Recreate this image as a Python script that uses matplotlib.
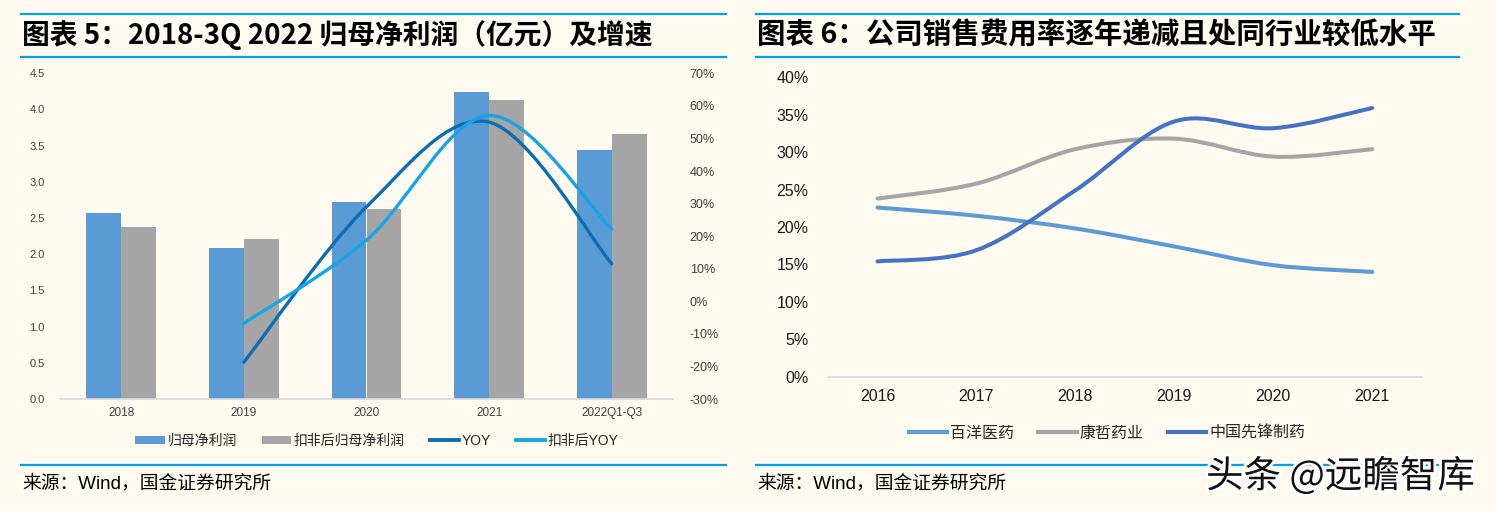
import numpy as np
import matplotlib
matplotlib.use("Agg")
import matplotlib.pyplot as plt
from matplotlib.path import Path
from matplotlib.patches import PathPatch
from matplotlib.lines import Line2D
import matplotlib.patheffects as pe

plt.rcParams['font.family'] = ['Liberation Sans', 'Noto Sans CJK SC']

# left chart data
periods = ["2018", "2019", "2020", "2021", "2022Q1-Q3"]
np_parent = [2.57, 2.09, 2.72, 4.24, 3.44]
np_deducted = [2.37, 2.21, 2.62, 4.13, 3.66]
yoy_years = [1, 2, 3, 4]
yoy = [-18.7, 29.0, 55.0, 11.5]
yoy_deducted = [-6.8, 18.8, 57.0, 22.2]

# right chart data
years = ["2016", "2017", "2018", "2019", "2020", "2021"]
baiyang = [22.6, 21.5, 19.8, 17.4, 14.9, 14.0]
kangzhe = [23.8, 25.8, 30.4, 31.8, 29.4, 30.4]
xianfeng = [15.4, 16.9, 24.9, 34.1, 33.2, 35.9]

BG = "#FEFAF0"
RULE = "#00A0E9"
W, H = 1496, 511


def smooth_path(xs, ys):
    # Excel-like smoothed line: cubic bezier through every point
    pts = np.column_stack([xs, ys]).astype(float)
    verts = [pts[0]]
    codes = [Path.MOVETO]
    n = len(pts)
    for i in range(n - 1):
        p0 = pts[i - 1] if i > 0 else pts[i]
        p1, p2 = pts[i], pts[i + 1]
        p3 = pts[i + 2] if i + 2 < n else pts[i + 1]
        verts += [p1 + (p2 - p0) / 6, p2 - (p3 - p1) / 6, p2]
        codes += [Path.CURVE4] * 3
    return Path(verts, codes)


def add_smooth(ax, xs, ys, color, lw):
    patch = PathPatch(smooth_path(xs, ys), facecolor="none", edgecolor=color,
                      lw=lw, capstyle="round", joinstyle="round")
    ax.add_patch(patch)


def fx(px):
    return px / W


def fy(py):
    return 1 - py / H


fig = plt.figure(figsize=(W / 100, H / 100), dpi=100, facecolor=BG)

# frame rules, titles and sources
for x0, x1 in [(21, 726), (756, 1459)]:
    for yy in [14, 57.5, 464.5]:
        fig.add_artist(Line2D([fx(x0), fx(x1)], [fy(yy), fy(yy)],
                              transform=fig.transFigure, color=RULE, lw=1.6))

fig.text(fx(22), fy(35), "图表 5：2018-3Q 2022 归母净利润（亿元）及增速",
         family=['Noto Sans CJK SC'], fontweight="bold", fontsize=20,
         va="center", ha="left")
fig.text(fx(757), fy(35), "图表 6：公司销售费用率逐年递减且处同行业较低水平",
         family=['Noto Sans CJK SC'], fontweight="bold", fontsize=20.5,
         va="center", ha="left")
fig.text(fx(22), fy(483), "来源：Wind，国金证券研究所", fontsize=13.5,
         va="center", ha="left")
fig.text(fx(757), fy(483), "来源：Wind，国金证券研究所", fontsize=13.5,
         va="center", ha="left")

# ---- left chart ----
ax1 = fig.add_axes([fx(60), fy(399), fx(673) - fx(60), fy(73.3) - fy(399)])
ax1.set_facecolor("none")
x = np.arange(len(periods))
bw = 0.285
ax1.bar(x - bw / 2, np_parent, bw, color="#5B9BD5", label="归母净利润")
ax1.bar(x + bw / 2, np_deducted, bw, color="#A5A5A5", label="扣非后归母净利润")
ax1.set_xlim(-0.5, len(periods) - 0.5)
ax1.set_ylim(0, 4.5)
ax1.set_yticks(np.arange(0, 4.51, 0.5))
ax1.set_yticklabels(["{:.1f}".format(v) for v in np.arange(0, 4.51, 0.5)])
ax1.set_xticks(x)
ax1.set_xticklabels(periods)
for s in ["top", "left", "right"]:
    ax1.spines[s].set_visible(False)
ax1.spines["bottom"].set_color("#D9D9D9")
ax1.spines["bottom"].set_linewidth(1.2)
ax1.tick_params(length=0, labelsize=8, colors="#404040")
ax1.tick_params(axis="x", labelsize=8.5, pad=6)
ax1.tick_params(axis="y", pad=11)

ax2 = ax1.twinx()
ax2.set_ylim(-30, 70)
ax2.set_yticks(np.arange(-30, 71, 10))
ax2.set_yticklabels(["{}%".format(v) for v in range(-30, 71, 10)])
for s in ax2.spines.values():
    s.set_visible(False)
ax2.tick_params(length=0, labelsize=9, colors="#404040", pad=12)
add_smooth(ax2, yoy_years, yoy, "#0B6DB5", 2.4)
add_smooth(ax2, yoy_years, yoy_deducted, "#17A4E6", 2.4)

h1, l1 = ax1.get_legend_handles_labels()
h1 += [Line2D([], [], color="#0B6DB5", lw=2.8),
       Line2D([], [], color="#17A4E6", lw=2.8)]
l1 += ["YOY", "扣非后YOY"]
fig.legend(h1, l1, loc="center", bbox_to_anchor=(fx(377), fy(441)), ncol=4,
           frameon=False, fontsize=10, handlelength=2.1, handleheight=0.55,
           handletextpad=0.2, columnspacing=1.8, labelcolor="#262626")

# ---- right chart ----
ax3 = fig.add_axes([fx(828), fy(376.7), fx(1421.7) - fx(828), fy(77.3) - fy(376.7)])
ax3.set_facecolor("none")
xr = np.arange(len(years))
add_smooth(ax3, xr, baiyang, "#5B9BD5", 2.9)
add_smooth(ax3, xr, kangzhe, "#A5A5A5", 2.9)
add_smooth(ax3, xr, xianfeng, "#4472C4", 2.9)
ax3.set_xlim(-0.5, len(years) - 0.5)
ax3.set_ylim(0, 40)
ax3.set_yticks(range(0, 41, 5))
ax3.set_yticklabels(["{}%".format(v) for v in range(0, 41, 5)])
ax3.set_xticks(xr)
ax3.set_xticklabels(years)
for s in ["top", "left", "right"]:
    ax3.spines[s].set_visible(False)
ax3.spines["bottom"].set_color("#D9D9D9")
ax3.spines["bottom"].set_linewidth(1.2)
ax3.tick_params(length=0, labelsize=11.5, colors="#1A1A1A")
ax3.tick_params(axis="x", pad=9)
ax3.tick_params(axis="y", pad=14)

h3 = [Line2D([], [], color="#5B9BD5", lw=3),
      Line2D([], [], color="#A5A5A5", lw=3),
      Line2D([], [], color="#4472C4", lw=3)]
fig.legend(h3, ["百洋医药", "康哲药业", "中国先锋制药"], loc="center",
           bbox_to_anchor=(fx(1107), fy(433)), ncol=3, frameon=False,
           fontsize=11.5, handlelength=2.4, handletextpad=0.2,
           columnspacing=1.5, labelcolor="#262626")

# watermark
fig.text(fx(1206), fy(477), "头条 @远瞻智库", family=['Noto Sans CJK SC'],
         fontsize=27, va="center", ha="left", color="#111111",
         path_effects=[pe.withStroke(linewidth=4, foreground="white")])

fig.savefig("out.png", dpi=100, facecolor=BG)
